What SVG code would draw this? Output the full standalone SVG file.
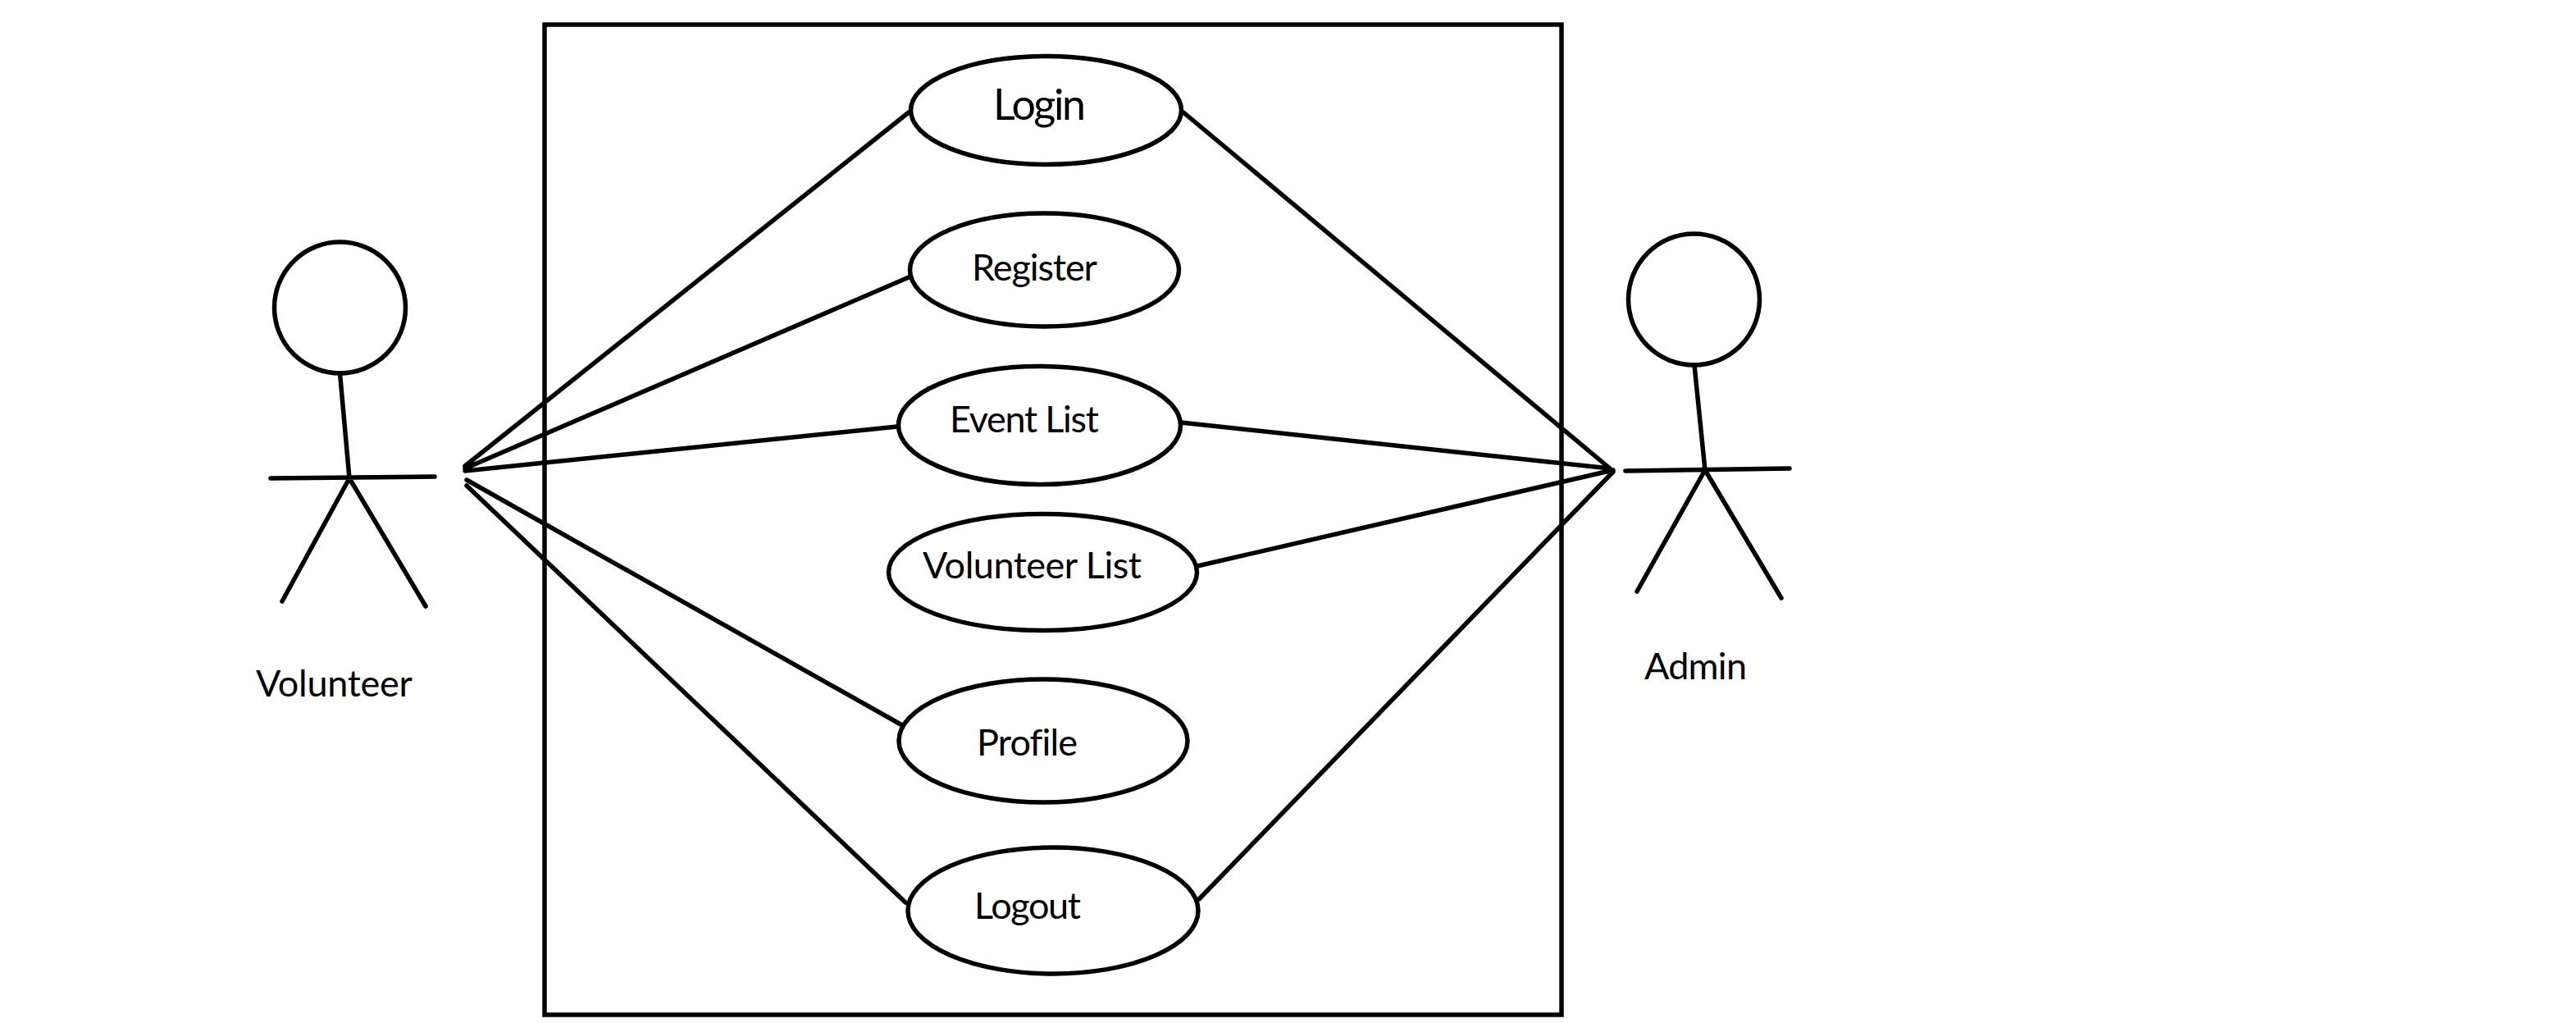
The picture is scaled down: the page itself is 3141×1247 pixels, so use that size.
<svg xmlns="http://www.w3.org/2000/svg" width="3141" height="1247" viewBox="0 0 3141 1247">
<style>
.s{fill:none;stroke:#000;stroke-width:5.500;stroke-linecap:round}
.u{fill:#fff;stroke:#000;stroke-width:5.500}
text{font-family:"Lato","Liberation Sans",sans-serif;fill:#000;font-size:45px;font-variant-ligatures:none}
</style>
<rect width="3141" height="1247" fill="#fff"/>
<rect id="boundary" x="664" y="30" width="1240" height="1207" fill="none" stroke="#000" stroke-width="5.500"/>
<g id="connectors">
<path class="s" d="M567 568L1108 137M567 571L1108 338M567 574L1094 520M569 585L1100 884M569 592L1104 1100"/>
<path class="s" d="M1963 571L1443 137M1963 571L1440 515M1967 573L1460 690M1967 575L1462 1096"/>
</g>
<g id="actor-volunteer">
<circle class="s" cx="414.500" cy="375" r="80"/>
<path class="s" d="M414.500 455L426 583M330 583L530 581M426 583L344 733M426 583L519 739"/>
<text x="312" y="849" textLength="191">Volunteer</text>
</g>
<g id="actor-admin">
<circle class="s" cx="2065.500" cy="365" r="80"/>
<path class="s" d="M2066 445L2079 573M1982 574L2182 571M2079 573L1996 721M2079 573L2172 729"/>
<text x="2005" y="828" textLength="125">Admin</text>
</g>
<g id="uc-login"><ellipse class="u" cx="1275.500" cy="134.500" rx="165" ry="66"/><text x="1211" y="146" textLength="113" style="font-size:52px">Login</text></g>
<g id="uc-register"><ellipse class="u" cx="1273.500" cy="329" rx="164" ry="69"/><text x="1185" y="342" textLength="153">Register</text></g>
<g id="uc-event-list"><ellipse class="u" cx="1267.500" cy="518.500" rx="172" ry="72"/><text x="1158" y="527" textLength="182">Event List</text></g>
<g id="uc-volunteer-list"><ellipse class="u" cx="1271.500" cy="697.500" rx="188" ry="71"/><text x="1125" y="705" textLength="267">Volunteer List</text></g>
<g id="uc-profile"><ellipse class="u" cx="1272" cy="903" rx="176" ry="75"/><text x="1191" y="921" textLength="123">Profile</text></g>
<g id="uc-logout"><ellipse class="u" cx="1284" cy="1110" rx="177" ry="77"/><text x="1188" y="1120" textLength="130">Logout</text></g>
</svg>
